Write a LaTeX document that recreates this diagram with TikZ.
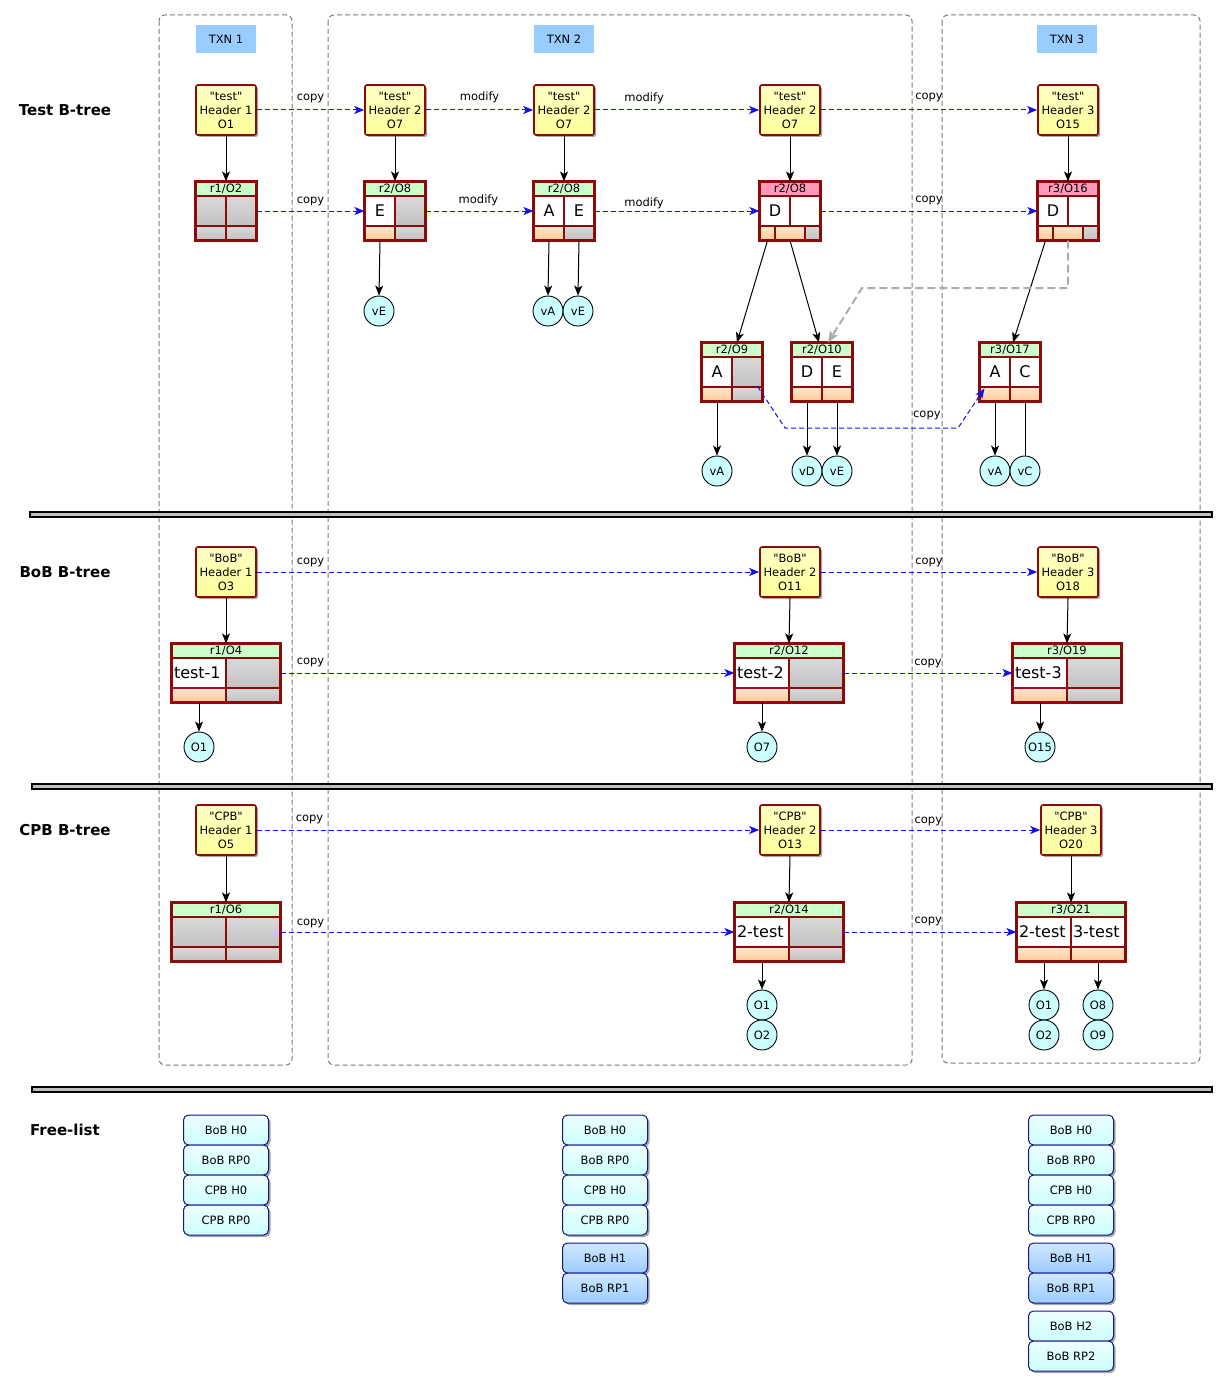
\documentclass[tikz,border=0pt]{standalone}
\usepackage{fontspec}
\setmainfont{DejaVu Sans}[Ligatures=TeXOff]
\usetikzlibrary{arrows.meta,shadows,calc}

\definecolor{dred}{HTML}{8B0A0A}
\definecolor{hdrY}{HTML}{FFFF99}
\definecolor{tgreen}{HTML}{CCFFCC}
\definecolor{tpink}{HTML}{FF99BB}
\definecolor{cyanv}{HTML}{CCFFFF}
\definecolor{txnblue}{HTML}{99CCFF}
\definecolor{navy}{HTML}{14148C}
\definecolor{framegray}{HTML}{7A7A7A}
\definecolor{copyblue}{HTML}{1010F0}

\newcommand\hdrfont{\fontsize{11.5}{14}\selectfont}
\newcommand\ttlfont{\fontsize{11.5}{12}\selectfont}
\newcommand\keyfont{\fontsize{16}{18}\selectfont}
\newcommand\lblfont{\fontsize{11.5}{13}\selectfont}
\newcommand\secfont{\fontsize{15}{17}\selectfont\bfseries}

% B-tree node: frame + title band; remembers centre, top and column width
\newcommand\btnode[6]{%
  \node[btbox, minimum width=2*#4, minimum height=58] (#1) at (#2,#3+29) {};
  \node[bttitle, fill=#5, minimum width=2*#4] (#1-t) at (#2,#3+7) {#6};
  \def\bcx{#2}\def\btop{#3}\def\bcw{#4}}
% two key cells
\newcommand\btkeys[5]{%
  \node[#2, minimum width=\bcw] (#1-k1) at (\bcx-\bcw/2,\btop+29) {#3};
  \node[#4, minimum width=\bcw] (#1-k2) at (\bcx+\bcw/2,\btop+29) {#5};}
% two pointer cells, then the outline again
\newcommand\btbot[3]{%
  \node[#2, minimum width=\bcw] (#1-b1) at (\bcx-\bcw/2,\btop+51) {};
  \node[#3, minimum width=\bcw] (#1-b2) at (\bcx+\bcw/2,\btop+51) {};
  \draw[draw=dred, line width=1.6pt] (#1.south west) rectangle (#1.north east);}
% three pointer cells (narrow, wide, narrow)
\newcommand\btbotiii[4]{%
  \node[#2, minimum width=15] (#1-b1) at (\bcx-22.5,\btop+51) {};
  \node[#3, minimum width=30] (#1-b2) at (\bcx,\btop+51) {};
  \node[#4, minimum width=15] (#1-b3) at (\bcx+22.5,\btop+51) {};
  \draw[draw=dred, line width=1.6pt] (#1.south west) rectangle (#1.north east);}

\tikzset{
  shad/.style={drop shadow={shadow xshift=2pt, shadow yshift=-2pt, opacity=0.35, fill=black}},
  hdr/.style={draw=dred, line width=1.6pt, rounded corners=2pt, top color=hdrY!55!white,
    bottom color=hdrY, minimum width=60, minimum height=50, inner sep=0pt,
    align=center, font=\hdrfont, shad},
  btbox/.style={draw=dred, fill=white, line width=1.6pt, inner sep=0pt, shad},
  bttitle/.style={draw=dred, line width=1.1pt, inner sep=0pt, minimum height=14, font=\ttlfont},
  keyw/.style={draw=dred, line width=1.1pt, fill=white, inner sep=0pt, minimum height=30, font=\keyfont},
  keyg/.style={keyw, top color=gray!30, bottom color=gray!48},
  keyl/.style={keyw, inner xsep=2pt, text width=50, align=left},
  boto/.style={draw=dred, line width=1.1pt, inner sep=0pt, minimum height=14,
    top color=orange!18, bottom color=orange!42},
  botp/.style={boto, draw=purple!70!dred},
  botg/.style={draw=dred, line width=1.1pt, inner sep=0pt, minimum height=14,
    top color=gray!30, bottom color=gray!48},
  val/.style={circle, draw=black, line width=0.9pt, fill=cyanv, minimum size=30,
    inner sep=0pt, font=\lblfont},
  txn/.style={fill=txnblue, minimum width=60, minimum height=28, inner sep=0pt, font=\lblfont},
  sec/.style={font=\secfont, inner sep=0pt},
  fl/.style={draw=navy, line width=1pt, rounded corners=5pt, top color=cyanv!35!white,
    bottom color=cyanv, minimum width=85, minimum height=30, inner sep=0pt,
    font=\lblfont, shad},
  flb/.style={fl, top color=txnblue!45!white, bottom color=txnblue},
  frame/.style={draw=framegray, line width=1pt, dash pattern=on 5pt off 3pt, rounded corners=6pt},
  bar/.style={draw=black, line width=1.2pt, fill=gray!50},
  link/.style={draw=black, line width=1pt, -{Stealth[length=10pt, width=8pt, inset=2.5pt]}},
  plain/.style={draw=black, line width=1pt},
  copyline/.style={draw=copyblue, line width=1pt, dash pattern=on 5pt off 3pt,
    -{Stealth[length=10pt, width=8pt, inset=2.5pt]}},
  moved/.style={draw=gray!65, line width=2pt, dash pattern=on 8pt off 4pt,
    -{Stealth[length=11pt, width=9pt, inset=2pt]}},
  lbl/.style={font=\lblfont, inner sep=1pt},
}

\begin{document}
\begin{tikzpicture}[x=1pt,y=-1pt]
\useasboundingbox (0,0) rectangle (1227,1386);

% transaction frames
\draw[frame] (159,15) rectangle (292,1065);
\draw[frame] (328,15) rectangle (912,1065);
\draw[frame] (942,15) rectangle (1200,1063);
\node[txn] (txn1) at (226,39) {TXN 1};
\node[txn] (txn2) at (564,39) {TXN 2};
\node[txn] (txn3) at (1067,39) {TXN 3};

% section separators
\draw[bar] (30,512) rectangle (1212,517);
\draw[bar] (32,784) rectangle (1212,789);
\draw[bar] (32,1087) rectangle (1212,1092);

% section titles
\node[sec] (secT) at (65,110) {Test B-tree};
\node[sec] (secB) at (65,572) {BoB B-tree};
\node[sec] (secC) at (65,830) {CPB B-tree};
\node[sec] (secF) at (65,1130) {Free-list};

% ---------------- Test B-tree ----------------
\node[hdr] (h1t) at (226,110) {"test"\\Header 1\\O1};
\node[hdr] (h2t) at (395,110) {"test"\\Header 2\\O7};
\node[hdr] (h3t) at (564,110) {"test"\\Header 2\\O7};
\node[hdr] (h4t) at (790,110) {"test"\\Header 2\\O7};
\node[hdr] (h5t) at (1068,110) {"test"\\Header 3\\O15};

\btnode{n1}{226}{182}{30}{tgreen}{r1/O2}
\btkeys{n1}{keyg}{}{keyg}{}
\btbot{n1}{botg}{botg}

\btnode{n2}{395}{182}{30}{tgreen}{r2/O8}
\btkeys{n2}{keyw}{E}{keyg}{}
\btbot{n2}{boto}{botg}

\btnode{n3}{564}{182}{30}{tgreen}{r2/O8}
\btkeys{n3}{keyw}{A}{keyw}{E}
\btbot{n3}{boto}{botg}

\btnode{n4}{790}{182}{30}{tpink}{r2/O8}
\btkeys{n4}{keyw}{D}{keyw}{}
\btbotiii{n4}{boto}{boto}{botg}

\btnode{n5}{1068}{182}{30}{tpink}{r3/O16}
\btkeys{n5}{keyw}{D}{keyw}{}
\btbotiii{n5}{boto}{boto}{botg}

\btnode{n6}{732}{343}{30}{tgreen}{r2/O9}
\btkeys{n6}{keyw}{A}{keyg}{}
\btbot{n6}{boto}{botg}

\btnode{n7}{822}{343}{30}{tgreen}{r2/O10}
\btkeys{n7}{keyw}{D}{keyw}{E}
\btbot{n7}{boto}{boto}

\btnode{n8}{1010}{343}{30}{tgreen}{r3/O17}
\btkeys{n8}{keyw}{A}{keyw}{C}
\btbot{n8}{boto}{boto}

\node[val] (v1) at (379,311) {vE};
\node[val] (v2) at (548,311) {vA};
\node[val] (v3) at (578,311) {vE};
\node[val] (v4) at (717,471) {vA};
\node[val] (v5) at (807,471) {vD};
\node[val] (v6) at (837,471) {vE};
\node[val] (v7) at (995,471) {vA};
\node[val] (v8) at (1025,471) {vC};

% header -> root
\draw[link] (h1t.south) -- (n1-t.north);
\draw[link] (h2t.south) -- (n2-t.north);
\draw[link] (h3t.south) -- (n3-t.north);
\draw[link] (h4t.south) -- (n4-t.north);
\draw[link] (h5t.south) -- (n5-t.north);

% children and values
\draw[link] (n2-b1.south) -- (v1.north);
\draw[link] (n3-b1.south) -- (v2.north);
\draw[link] (n3-b2.south) -- (v3.north);
\draw[link] (n4-b1.south) -- ([xshift=5pt]n6-t.north);
\draw[link] (n4-b2.south) -- ([xshift=-3pt]n7-t.north);
\draw[link] (n5-b1.south) -- ([xshift=3pt]n8-t.north);
\draw[link] (n6-b1.south) -- (v4.north);
\draw[link] (n7-b1.south) -- (v5.north);
\draw[link] (n7-b2.south) -- (v6.north);
\draw[link] (n8-b1.south) -- (v7.north);
\draw[plain] (n8-b2.south) -- (v8.north);

% shared child kept from the older root
\coordinate (gbend) at (862,288);
\draw[moved] (n5-b2.south) |- (gbend) -- ([xshift=6pt]n7-t.north);

% copy / modify steps
\draw[copyline] (h1t.east) -- (h2t.west);
\draw[copyline] (h2t.east) -- (h3t.west);
\draw[copyline] (h3t.east) -- (h4t.west);
\draw[copyline] (h4t.east) -- (h5t.west);
\draw[copyline] (n1-k2.east) -- (n2-k1.west);
\draw[copyline] (n2-k2.east) -- (n3-k1.west);
\draw[copyline] (n3-k2.east) -- (n4-k1.west);
\draw[copyline] (n4-k2.east) -- (n5-k1.west);
\coordinate (cp1) at (785,428);
\coordinate (cp2) at (958,428);
\draw[copyline] ([xshift=-5pt]n6-b2.north east) -- (cp1) -- (cp2)
  -- ([xshift=5pt,yshift=-2pt]n8-b1.north west);

\path (h1t.east) -- node[lbl, pos=0.5, yshift=12pt] {copy} (h2t.west);
\path (h2t.east) -- node[lbl, pos=0.5, yshift=13pt] {modify} (h3t.west);
\path (h3t.east) -- node[lbl, pos=0.3, yshift=12pt] {modify} (h4t.west);
\path (h4t.east) -- node[lbl, pos=0.5, yshift=13pt] {copy} (h5t.west);
\path (n1-k2.east) -- node[lbl, pos=0.5, yshift=10pt] {copy} (n2-k1.west);
\path (n2-k2.east) -- node[lbl, pos=0.49, yshift=11pt] {modify} (n3-k1.west);
\path (n3-k2.east) -- node[lbl, pos=0.3, yshift=8pt] {modify} (n4-k1.west);
\path (n4-k2.east) -- node[lbl, pos=0.5, yshift=11pt] {copy} (n5-k1.west);
\path (cp1) -- node[lbl, pos=0.82, yshift=13pt] {copy} (cp2);

% ---------------- BoB B-tree ----------------
\node[hdr] (hb1) at (226,572) {"BoB"\\Header 1\\O3};
\node[hdr] (hb2) at (790,572) {"BoB"\\Header 2\\O11};
\node[hdr] (hb3) at (1068,572) {"BoB"\\Header 3\\O18};

\btnode{b1}{226}{644}{54}{tgreen}{r1/O4}
\btkeys{b1}{keyl}{test-1}{keyg}{}
\btbot{b1}{botp}{botg}

\btnode{b2}{789}{644}{54}{tgreen}{r2/O12}
\btkeys{b2}{keyl}{test-2}{keyg}{}
\btbot{b2}{botp}{botg}

\btnode{b3}{1067}{644}{54}{tgreen}{r3/O19}
\btkeys{b3}{keyl}{test-3}{keyg}{}
\btbot{b3}{botp}{botg}

\node[val] (w1) at (199,747) {O1};
\node[val] (w2) at (762,747) {O7};
\node[val] (w3) at (1040,747) {O15};

\draw[link] (hb1.south) -- (b1-t.north);
\draw[link] (hb2.south) -- (b2-t.north);
\draw[link] (hb3.south) -- (b3-t.north);
\draw[link] (b1-b1.south) -- (w1.north);
\draw[link] (b2-b1.south) -- (w2.north);
\draw[link] (b3-b1.south) -- (w3.north);

\draw[copyline] (hb1.east) -- (hb2.west);
\draw[copyline] (hb2.east) -- (hb3.west);
\draw[copyline] (b1-k2.east) -- (b2-k1.west);
\draw[copyline] (b2-k2.east) -- (b3-k1.west);
\path (hb1.east) -- node[lbl, pos=0.107, yshift=10pt] {copy} (hb2.west);
\path (hb2.east) -- node[lbl, pos=0.5, yshift=10pt] {copy} (hb3.west);
\path (b1-k2.east) -- node[lbl, pos=0.066, yshift=11pt] {copy} (b2-k1.west);
\path (b2-k2.east) -- node[lbl, pos=0.5, yshift=10pt] {copy} (b3-k1.west);

% ---------------- CPB B-tree ----------------
\node[hdr] (hc1) at (226,830) {"CPB"\\Header 1\\O5};
\node[hdr] (hc2) at (790,830) {"CPB"\\Header 2\\O13};
\node[hdr] (hc3) at (1071,830) {"CPB"\\Header 3\\O20};

\btnode{c1}{226}{903}{54}{tgreen}{r1/O6}
\btkeys{c1}{keyg}{}{keyg}{}
\btbot{c1}{botg}{botg}

\btnode{c2}{789}{903}{54}{tgreen}{r2/O14}
\btkeys{c2}{keyl}{2-test}{keyg}{}
\btbot{c2}{boto}{botg}

\btnode{c3}{1071}{903}{54}{tgreen}{r3/O21}
\btkeys{c3}{keyl}{2-test}{keyl}{3-test}
\btbot{c3}{boto}{boto}

\node[val] (x1) at (762,1005) {O1};
\node[val] (x2) at (762,1035) {O2};
\node[val] (x3) at (1044,1005) {O1};
\node[val] (x4) at (1044,1035) {O2};
\node[val] (x5) at (1098,1005) {O8};
\node[val] (x6) at (1098,1035) {O9};

\draw[link] (hc1.south) -- (c1-t.north);
\draw[link] (hc2.south) -- (c2-t.north);
\draw[link] (hc3.south) -- (c3-t.north);
\draw[link] (c2-b1.south) -- (x1.north);
\draw[link] (c3-b1.south) -- (x3.north);
\draw[link] (c3-b2.south) -- (x5.north);

\draw[copyline] (hc1.east) -- (hc2.west);
\draw[copyline] (hc2.east) -- (hc3.west);
\draw[copyline] (c1-k2.east) -- (c2-k1.west);
\draw[copyline] (c2-k2.east) -- (c3-k1.west);
\path (hc1.east) -- node[lbl, pos=0.105, yshift=11pt] {copy} (hc2.west);
\path (hc2.east) -- node[lbl, pos=0.49, yshift=9pt] {copy} (hc3.west);
\path (c1-k2.east) -- node[lbl, pos=0.066, yshift=9pt] {copy} (c2-k1.west);
\path (c2-k2.east) -- node[lbl, pos=0.49, yshift=11pt] {copy} (c3-k1.west);

% ---------------- Free-list ----------------
\node[fl] (fa1) at (226,1130) {BoB H0};
\node[fl] (fa2) at (226,1160) {BoB RP0};
\node[fl] (fa3) at (226,1190) {CPB H0};
\node[fl] (fa4) at (226,1220) {CPB RP0};

\node[fl] (fb1) at (605,1130) {BoB H0};
\node[fl] (fb2) at (605,1160) {BoB RP0};
\node[fl] (fb3) at (605,1190) {CPB H0};
\node[fl] (fb4) at (605,1220) {CPB RP0};
\node[flb] (fb5) at (605,1258) {BoB H1};
\node[flb] (fb6) at (605,1288) {BoB RP1};

\node[fl] (fc1) at (1071,1130) {BoB H0};
\node[fl] (fc2) at (1071,1160) {BoB RP0};
\node[fl] (fc3) at (1071,1190) {CPB H0};
\node[fl] (fc4) at (1071,1220) {CPB RP0};
\node[flb] (fc5) at (1071,1258) {BoB H1};
\node[flb] (fc6) at (1071,1288) {BoB RP1};
\node[fl] (fc7) at (1071,1326) {BoB H2};
\node[fl] (fc8) at (1071,1356) {BoB RP2};
\end{tikzpicture}
\end{document}
